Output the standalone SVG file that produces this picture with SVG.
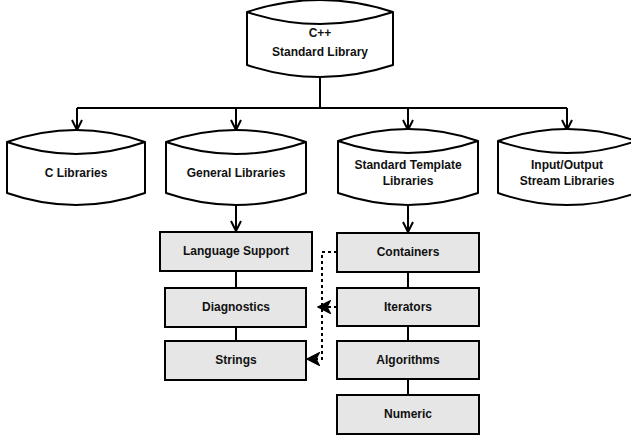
<svg xmlns="http://www.w3.org/2000/svg" width="631" height="438" viewBox="0 0 631 438">
<defs>
<style>
.shape{fill:#ffffff;stroke:#000000;stroke-width:2;stroke-linejoin:round}
.box{fill:#e6e6e6;stroke:#000000;stroke-width:2}
.lbl{font-family:"Liberation Sans",Arial,Helvetica,sans-serif;font-weight:bold;font-size:12px;fill:#111111;text-anchor:middle}
.edge{fill:none;stroke:#000000;stroke-width:2}
.dash{fill:none;stroke:#000000;stroke-width:2;stroke-dasharray:3 3}
</style>
<marker id="open" viewBox="0 0 12 12" refX="11" refY="6" markerWidth="12" markerHeight="12" markerUnits="userSpaceOnUse" orient="auto">
<path d="M1,1 L11,6 L1,11" fill="none" stroke="#000" stroke-width="2"/>
</marker>
<marker id="block" viewBox="0 0 14 14" refX="13" refY="7" markerWidth="14" markerHeight="14" markerUnits="userSpaceOnUse" orient="auto">
<path d="M1,1 L13,7 L1,13 L4,7 Z" fill="#000" stroke="#000" stroke-width="1.5" stroke-linejoin="miter"/>
</marker>
</defs>
<rect width="631" height="438" fill="#ffffff"/>

<g id="connectors">
<path class="edge" d="M320,77 L320,108"/>
<path class="edge" d="M77,108 L567,108"/>
<path class="edge" d="M77,108 L77,130" marker-end="url(#open)"/>
<path class="edge" d="M236,108 L236,130" marker-end="url(#open)"/>
<path class="edge" d="M408,108 L408,130" marker-end="url(#open)"/>
<path class="edge" d="M567,108 L567,130" marker-end="url(#open)"/>
<path class="edge" d="M236,204 L236,231" marker-end="url(#open)"/>
<path class="edge" d="M408,205 L408,232" marker-end="url(#open)"/>
<path class="edge" d="M236,271 L236,288"/>
<path class="edge" d="M236,327 L236,341"/>
<path class="edge" d="M408,272 L408,288"/>
<path class="edge" d="M408,326 L408,341"/>
<path class="edge" d="M408,379 L408,395"/>
<path class="dash" d="M337,252 L322,252 L322,359 L307,359" marker-end="url(#block)"/>
<path class="dash" d="M337,307 L318,307" marker-end="url(#block)"/>
</g>

<g id="node-cpp">
<path class="shape" d="M247,12 Q320,-12 393,12 L393,65 Q320,89 247,65 Z"/>
<path class="edge" d="M247,12 Q320,36 393,12"/>
<text class="lbl" x="320" y="37">C++</text>
<text class="lbl" x="320" y="56">Standard Library</text>
</g>

<g id="node-c">
<path class="shape" d="M7,142 Q76,118 145,142 L145,193 Q76,217 7,193 Z"/>
<path class="edge" d="M7,142 Q76,166 145,142"/>
<text class="lbl" x="76" y="177">C Libraries</text>
</g>

<g id="node-general">
<path class="shape" d="M166,142 Q236,118 306,142 L306,193 Q236,217 166,193 Z"/>
<path class="edge" d="M166,142 Q236,166 306,142"/>
<text class="lbl" x="236" y="177">General Libraries</text>
</g>

<g id="node-stl">
<path class="shape" d="M338,141 Q408,117 478,141 L478,193 Q408,217 338,193 Z"/>
<path class="edge" d="M338,141 Q408,165 478,141"/>
<text class="lbl" x="408" y="169">Standard Template</text>
<text class="lbl" x="408" y="185">Libraries</text>
</g>

<g id="node-io">
<path class="shape" d="M498,141 Q567,117 636,141 L636,193 Q567,217 498,193 Z"/>
<path class="edge" d="M498,141 Q567,165 636,141"/>
<text class="lbl" x="567" y="169">Input/Output</text>
<text class="lbl" x="567" y="185">Stream Libraries</text>
</g>

<g id="node-language">
<rect class="box" x="160" y="232" width="152" height="39"/>
<text class="lbl" x="236" y="255">Language Support</text>
</g>
<g id="node-diagnostics">
<rect class="box" x="165" y="288" width="141" height="39"/>
<text class="lbl" x="236" y="311">Diagnostics</text>
</g>
<g id="node-strings">
<rect class="box" x="165" y="341" width="141" height="39"/>
<text class="lbl" x="236" y="364">Strings</text>
</g>

<g id="node-containers">
<rect class="box" x="337" y="233" width="142" height="39"/>
<text class="lbl" x="408" y="256">Containers</text>
</g>
<g id="node-iterators">
<rect class="box" x="337" y="288" width="142" height="38"/>
<text class="lbl" x="408" y="311">Iterators</text>
</g>
<g id="node-algorithms">
<rect class="box" x="337" y="341" width="142" height="38"/>
<text class="lbl" x="408" y="364">Algorithms</text>
</g>
<g id="node-numeric">
<rect class="box" x="337" y="395" width="142" height="39"/>
<text class="lbl" x="408" y="418">Numeric</text>
</g>
</svg>
